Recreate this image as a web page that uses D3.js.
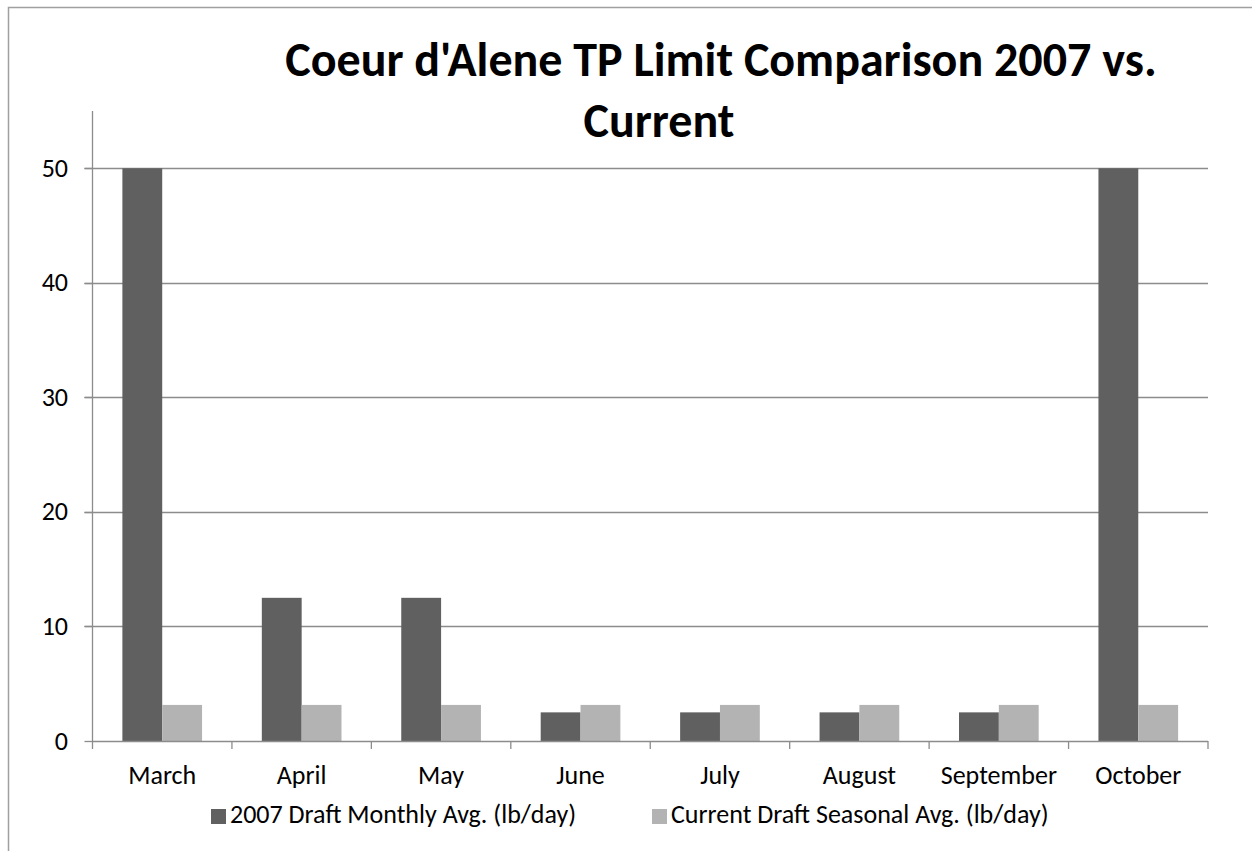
<!DOCTYPE html>
<html>
<head>
<meta charset="utf-8">
<script src="https://cdn.jsdelivr.net/npm/d3@7"></script>
<style>
  body { margin: 0; background: #fff; }
  svg { display: block; }
</style>
</head>
<body>
<div id="chart"></div>
<script>
// ========= Data ========= //
const months = ['March', 'April', 'May', 'June', 'July', 'August', 'September', 'October'];
const monthlyAvg2007 = [50, 12.5, 12.5, 2.5, 2.5, 2.5, 2.5, 50];
const seasonalAvgCurrent = [3.15, 3.15, 3.15, 3.15, 3.15, 3.15, 3.15, 3.15];
const seriesNames = ['2007 Draft Monthly Avg. (lb/day)', 'Current Draft Seasonal Avg. (lb/day)'];
const yTicks = [0, 10, 20, 30, 40, 50];

// ========= Constants ========= //
const width = 1252;
const height = 851;
const font = "Calibri, Carlito, 'Liberation Sans', Arial, sans-serif";
const colors = ['#606060', '#b3b3b3'];
const axisColor = '#8c8c8c';
const margin = { top: 111, left: 92.5, right: 1208, bottom: 741 };

const svg = d3.select('#chart').append('svg')
  .attr('width', width)
  .attr('height', height);

svg.append('rect')
  .attr('width', width)
  .attr('height', height)
  .attr('fill', '#fff');

// chart frame (cropped at right and bottom)
svg.append('path')
  .attr('d', `M8.5,${height + 2} V7.5 H${width + 2}`)
  .attr('fill', 'none')
  .attr('stroke', '#a0a0a0')
  .attr('stroke-width', 1.5);

// ========= Scales ========= //
const x = d3.scaleBand()
  .domain(months)
  .range([margin.left, margin.right]);

const barW = x.bandwidth() / 3.5;
const offset = (x.bandwidth() - 2 * barW) / 2;

const y = d3.scaleLinear()
  .domain([0, 55])
  .range([margin.bottom, margin.top]);

// ========= Gridlines ========= //
svg.append('g')
  .selectAll('line')
  .data(yTicks.filter((d) => d > 0))
  .join('line')
  .attr('x1', margin.left - 8)
  .attr('x2', margin.right)
  .attr('y1', (d) => Math.round(y(d)) + 0.5)
  .attr('y2', (d) => Math.round(y(d)) + 0.5)
  .attr('stroke', axisColor)
  .attr('stroke-width', 1.3);

// ========= Bars ========= //
const rows = months.map((m, i) => ({ month: m, values: [monthlyAvg2007[i], seasonalAvgCurrent[i]] }));

svg.append('g')
  .selectAll('g')
  .data(rows)
  .join('g')
  .selectAll('rect')
  .data((d) => d.values.map((v, k) => ({ month: d.month, v, k })))
  .join('rect')
  .attr('x', (d) => x(d.month) + offset + d.k * barW)
  .attr('y', (d) => y(d.v))
  .attr('width', barW)
  .attr('height', (d) => y(0) - y(d.v))
  .attr('fill', (d) => colors[d.k]);

// ========= Y axis ========= //
const yAxis = svg.append('g');
yAxis.append('line')
  .attr('x1', margin.left).attr('x2', margin.left)
  .attr('y1', margin.top).attr('y2', margin.bottom + 1)
  .attr('stroke', axisColor)
  .attr('stroke-width', 1.3);

yAxis.selectAll('line.tick')
  .data(yTicks)
  .join('line')
  .attr('class', 'tick')
  .attr('x1', margin.left - 8)
  .attr('x2', margin.left)
  .attr('y1', (d) => Math.round(y(d)) + 0.5)
  .attr('y2', (d) => Math.round(y(d)) + 0.5)
  .attr('stroke', axisColor)
  .attr('stroke-width', 1.3);

yAxis.selectAll('text')
  .data(yTicks)
  .join('text')
  .attr('x', 68)
  .attr('y', (d) => y(d) + 8.5)
  .attr('text-anchor', 'end')
  .attr('font-family', font)
  .attr('font-size', 26)
  .attr('fill', '#000')
  .text((d) => d);

// ========= X axis ========= //
const xAxis = svg.append('g');
xAxis.append('line')
  .attr('x1', margin.left).attr('x2', margin.right)
  .attr('y1', margin.bottom + 0.5).attr('y2', margin.bottom + 0.5)
  .attr('stroke', axisColor)
  .attr('stroke-width', 1.5);

const boundaries = months.map((m) => x(m)).concat([margin.right]);
xAxis.selectAll('line.tick')
  .data(boundaries)
  .join('line')
  .attr('class', 'tick')
  .attr('x1', (d) => d).attr('x2', (d) => d)
  .attr('y1', margin.bottom).attr('y2', margin.bottom + 8)
  .attr('stroke', axisColor)
  .attr('stroke-width', 1.3);

xAxis.selectAll('text')
  .data(months)
  .join('text')
  .attr('x', (d) => x(d) + x.bandwidth() / 2)
  .attr('y', 784)
  .attr('text-anchor', 'middle')
  .attr('font-family', font)
  .attr('font-size', 26)
  .attr('fill', '#000')
  .text((d) => d);

// ========= Legend ========= //
const legendX = [211, 652];
const legend = svg.append('g')
  .selectAll('g')
  .data(seriesNames)
  .join('g')
  .attr('transform', (d, i) => `translate(${legendX[i]} 809)`);

legend.append('rect')
  .attr('width', 15)
  .attr('height', 15)
  .attr('fill', (d, i) => colors[i]);

legend.append('text')
  .attr('x', 19)
  .attr('y', 14)
  .attr('font-family', font)
  .attr('font-size', 26)
  .attr('fill', '#000')
  .text((d) => d);

// ========= Title ========= //
const title = svg.append('g')
  .attr('font-family', font)
  .attr('font-weight', 'bold')
  .attr('font-size', 48)
  .attr('fill', '#000')
  .attr('text-anchor', 'middle');

title.append('text')
  .attr('x', 721)
  .attr('y', 76)
  .text("Coeur d'Alene TP Limit Comparison 2007 vs.");

title.append('text')
  .attr('x', 659)
  .attr('y', 137)
  .text('Current');
</script>
</body>
</html>
